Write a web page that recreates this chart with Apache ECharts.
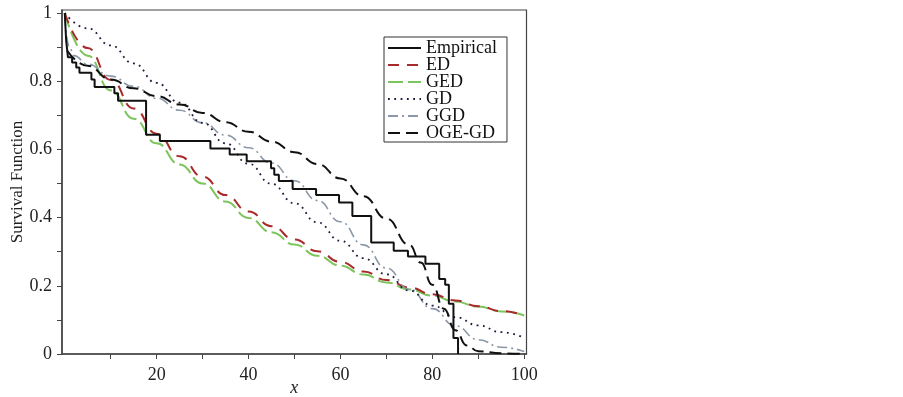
<!DOCTYPE html>
<html>
<head>
<meta charset="utf-8">
<script src="https://cdn.jsdelivr.net/npm/echarts@6/dist/echarts.min.js"></script>
<style>
html,body{margin:0;padding:0;background:#fff;}
#chart{width:903px;height:397px;}
</style>
</head>
<body>
<div id="chart"></div>
<script>
// ---- Data ----
const xTickLabels = [20, 40, 60, 80, 100];
const xTicks = [10, 20, 30, 40, 50, 60, 70, 80, 90, 100];
const yTickLabels = [0, 0.2, 0.4, 0.6, 0.8, 1];
const yTicks = [0, 0.1, 0.2, 0.3, 0.4, 0.5, 0.6, 0.7, 0.8, 0.9, 1];

const empX = [0, 0.3, 0.7, 1.6, 2.5, 3.2, 5.8, 6.5, 10.8, 11.6, 17.7, 20.7, 31.7, 35.9, 39.6, 44.9, 45.6, 46.6, 49.6, 54.7, 59.7, 62.6, 66.7, 71.6, 74.7, 78.5, 81.5, 82.8, 83.6, 84.6, 85.6];
const empY = [1.0, 0.92, 0.87, 0.855, 0.84, 0.825, 0.805, 0.783, 0.765, 0.743, 0.643, 0.625, 0.603, 0.585, 0.565, 0.545, 0.526, 0.507, 0.484, 0.466, 0.444, 0.405, 0.327, 0.303, 0.286, 0.265, 0.22, 0.203, 0.147, 0.047, 0.0];

const curveX = [0, 5, 10, 15, 20, 25, 30, 35, 40, 45, 50, 55, 60, 65, 70, 75, 80, 85, 90, 95, 100];
const edY  = [1.0, 0.897, 0.804, 0.72, 0.646, 0.58, 0.52, 0.466, 0.418, 0.375, 0.336, 0.301, 0.27, 0.242, 0.217, 0.195, 0.175, 0.157, 0.14, 0.126, 0.113];
const gedY = [1.0, 0.875, 0.773, 0.69, 0.618, 0.556, 0.5, 0.447, 0.399, 0.357, 0.321, 0.288, 0.259, 0.233, 0.21, 0.189, 0.171, 0.154, 0.139, 0.125, 0.113];
const gdY  = [1.0, 0.955, 0.905, 0.852, 0.795, 0.737, 0.678, 0.618, 0.558, 0.499, 0.442, 0.386, 0.332, 0.281, 0.234, 0.186, 0.142, 0.108, 0.084, 0.064, 0.047];

const ggdX = [0, 1, 2, 5, 10, 15, 20, 25, 30, 35, 40, 45, 50, 55, 60, 65, 70, 75, 80, 85, 90, 95, 100];
const ggdY = [0.99, 0.9, 0.875, 0.85, 0.815, 0.785, 0.75, 0.715, 0.678, 0.642, 0.605, 0.56, 0.508, 0.45, 0.388, 0.32, 0.252, 0.19, 0.133, 0.083, 0.042, 0.02, 0.007];

const ogeX = [0.5, 5, 10, 15, 20, 25, 30, 35, 40, 45, 50, 55, 60, 65, 70, 75, 77.5, 80, 82.5, 85, 87.5, 90, 95, 100];
const ogeY = [0.89, 0.845, 0.805, 0.779, 0.756, 0.732, 0.707, 0.68, 0.652, 0.623, 0.592, 0.557, 0.515, 0.463, 0.397, 0.32, 0.268, 0.203, 0.133, 0.07, 0.025, 0.008, 0.002, 0.0];

const seriesNames = ['Empirical', 'ED', 'GED', 'GD', 'GGD', 'OGE-GD'];

function pairs(xs, ys) { return xs.map((x, i) => [x, ys[i]]); }

const serif = '"Liberation Serif", "Times New Roman", serif';
const chart = echarts.init(document.getElementById('chart'));

chart.setOption({
  animation: false,
  backgroundColor: '#fff',
  grid: {
    left: 62, right: 376.5, top: 10, bottom: 43,
    outerBoundsMode: 'none', containLabel: false,
    show: true, borderColor: '#444', borderWidth: 1.2, backgroundColor: 'transparent'
  },
  xAxis: {
    type: 'value', min: -0.6, max: 100.5,
    name: 'x', nameLocation: 'middle', nameGap: 25, nameMoveOverlap: false,
    nameTextStyle: { fontFamily: serif, fontSize: 18, fontStyle: 'italic', color: '#222' },
    axisLine: { show: true, onZero: false, lineStyle: { color: '#444', width: 1.5 } },
    axisTick: { show: true, length: 5, inside: false, customValues: xTicks, lineStyle: { color: '#444' } },
    axisLabel: { customValues: xTickLabels, fontFamily: serif, fontSize: 18, color: '#222', margin: 12 },
    splitLine: { show: false }
  },
  yAxis: {
    type: 'value', min: 0, max: 1.0088,
    name: 'Survival Function', nameLocation: 'middle', nameGap: 36, nameRotate: 90, nameMoveOverlap: false,
    nameTextStyle: { fontFamily: serif, fontSize: 17, color: '#222' },
    axisLine: { show: true, onZero: false, lineStyle: { color: '#444', width: 1.5 } },
    axisTick: { show: true, length: 5, customValues: yTicks, lineStyle: { color: '#444' } },
    axisLabel: { customValues: yTickLabels, fontFamily: serif, fontSize: 18, color: '#222', margin: 10 },
    splitLine: { show: false }
  },
  legend: {
    orient: 'vertical', left: 384, top: 37,
    data: seriesNames,
    itemWidth: 33, itemHeight: 14, itemGap: -1,
    padding: [2, 10, 0, 3],
    borderColor: '#333', borderWidth: 1, backgroundColor: '#fff',
    itemStyle: { opacity: 0 },
    textStyle: { fontFamily: serif, fontSize: 18, color: '#111' }
  },
  series: [
    {
      name: 'ED', type: 'line', data: pairs(curveX, edY), symbol: 'none', smooth: true, smoothMonotone: 'x',
      lineStyle: { color: '#a82a2a', width: 2, type: [11, 8] }, itemStyle: { color: '#a82a2a' }, z: 3
    },
    {
      name: 'GED', type: 'line', data: pairs(curveX, gedY), symbol: 'none', smooth: true, smoothMonotone: 'x',
      lineStyle: { color: '#7cc45c', width: 2, type: [15, 5] }, itemStyle: { color: '#7cc45c' }, z: 2
    },
    {
      name: 'GD', type: 'line', data: pairs(curveX, gdY), symbol: 'none', smooth: true, smoothMonotone: 'x',
      lineStyle: { color: '#1c1c3c', width: 1.8, type: [1.8, 4.5] }, itemStyle: { color: '#1c1c3c' }, z: 4
    },
    {
      name: 'GGD', type: 'line', data: pairs(ggdX, ggdY), symbol: 'none', smooth: true, smoothMonotone: 'x',
      lineStyle: { color: '#8a98a8', width: 1.6, type: [10, 4, 2, 4] }, itemStyle: { color: '#8a98a8' }, z: 3
    },
    {
      name: 'OGE-GD', type: 'line', data: pairs(ogeX, ogeY), symbol: 'none', smooth: true, smoothMonotone: 'x',
      lineStyle: { color: '#111', width: 2, type: [12, 6] }, itemStyle: { color: '#111' }, z: 4
    },
    {
      name: 'Empirical', type: 'line', data: pairs(empX, empY), symbol: 'none', step: 'end',
      lineStyle: { color: '#111', width: 2, type: 'solid' }, itemStyle: { color: '#111' }, z: 5
    }
  ]
});
</script>
</body>
</html>
